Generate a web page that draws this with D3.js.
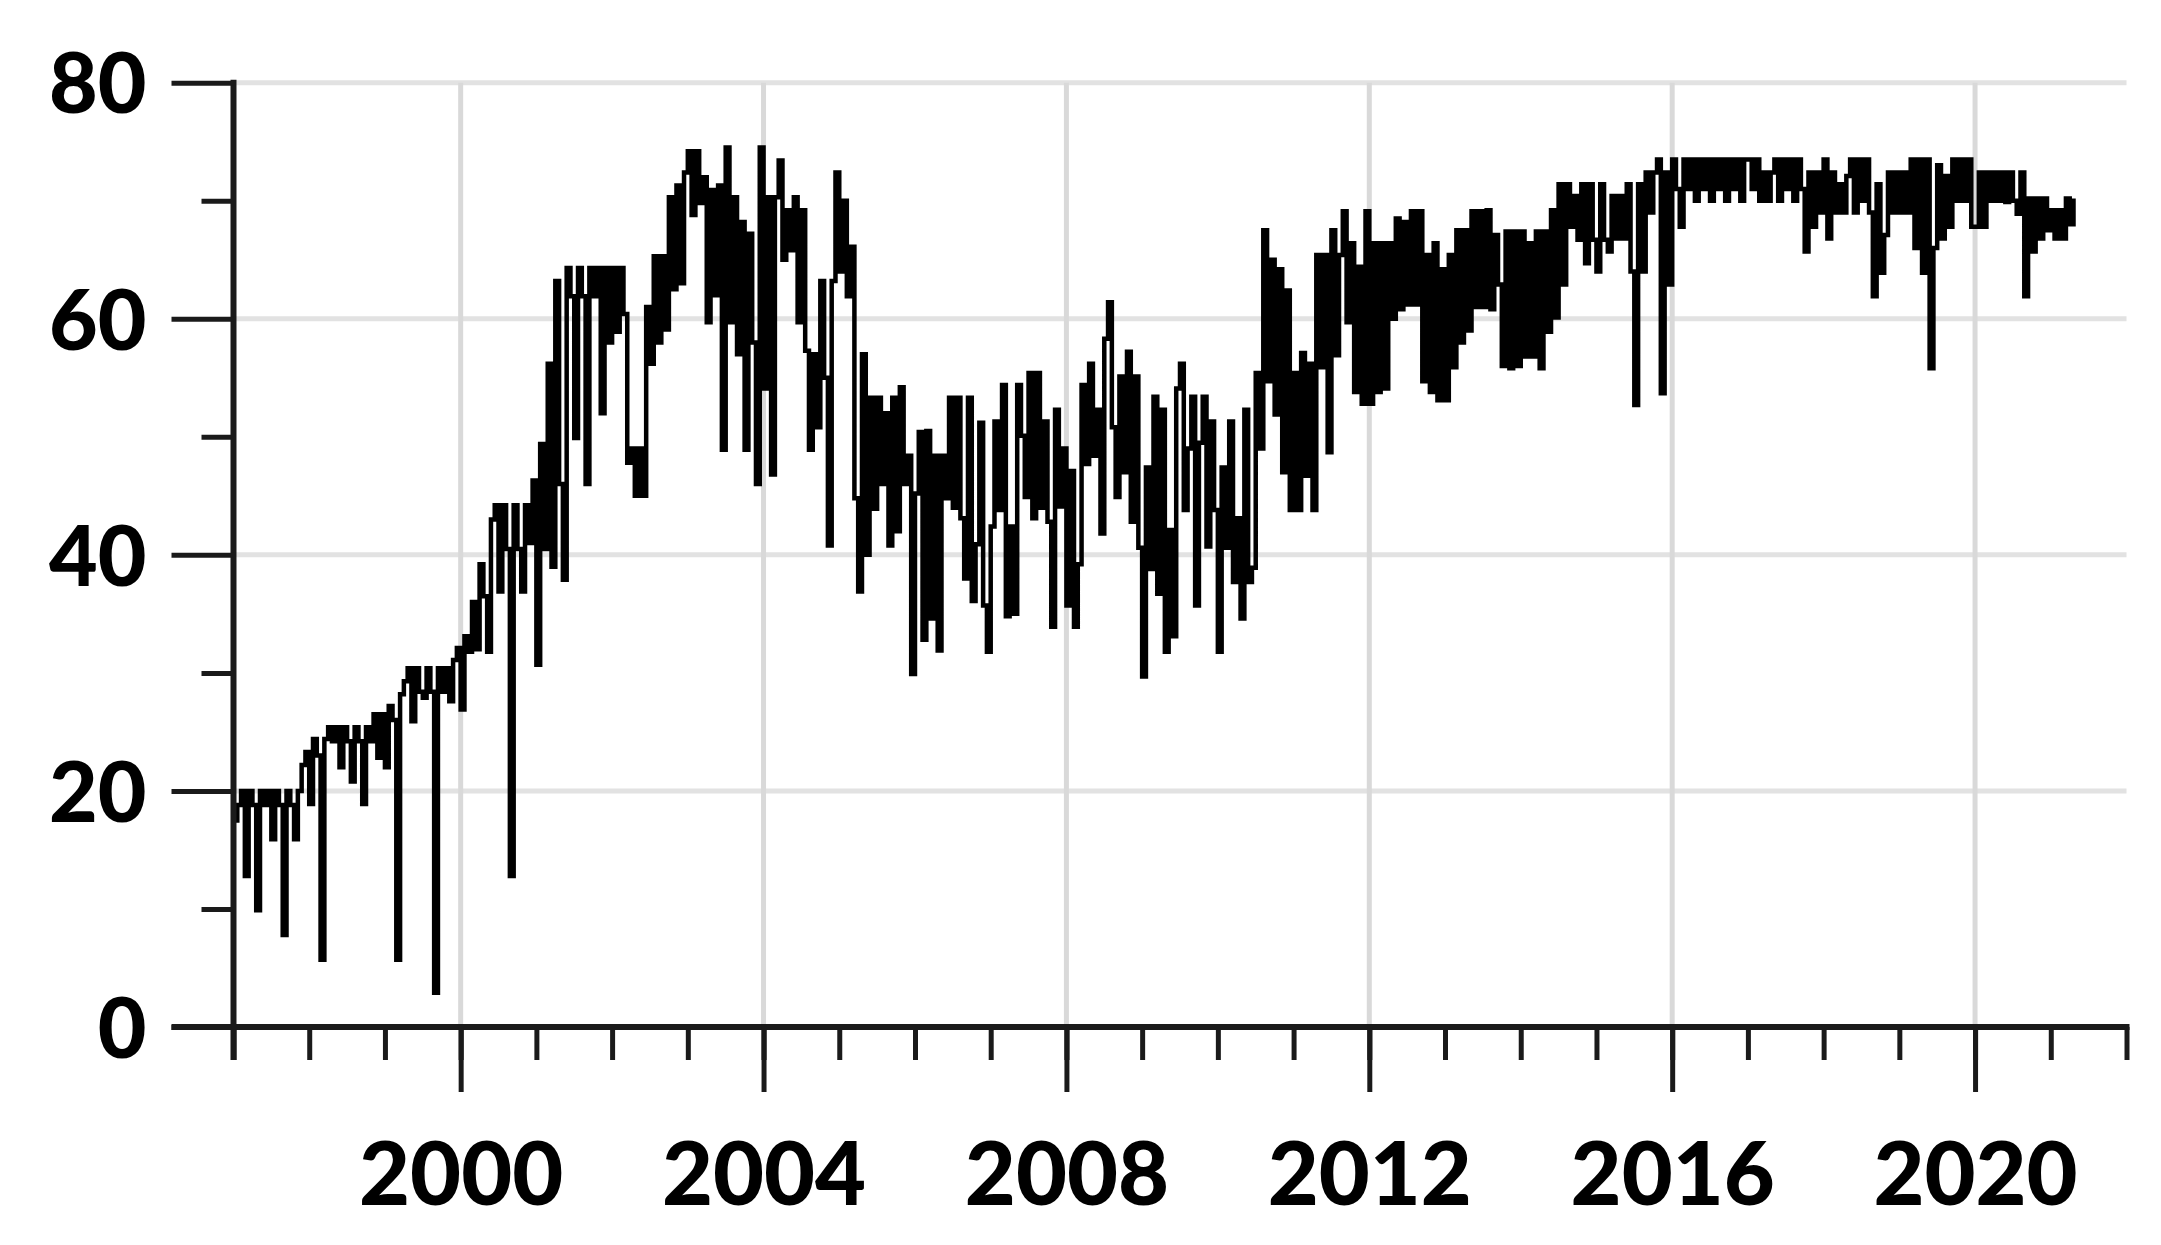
<!DOCTYPE html>
<html>
<head>
<meta charset="utf-8">
<script src="https://cdn.jsdelivr.net/npm/d3@7"></script>
<style>
  html, body { margin: 0; padding: 0; background: #fff; }
  svg { display: block; }
</style>
</head>
<body>
<div id="chart"></div>
<script>
// values, one reading every 1/20 of a year
var y1997 = [17.5, 18.8, 20.0, 12.8, 20.0, 18.8, 9.9, 20.0, 18.8, 20.0, 15.9, 20.0, 18.8, 7.8, 20.0, 18.8, 15.9, 20.0, 22.2, 23.3];
var y1998 = [18.9, 24.4, 23.0, 5.7, 24.4, 25.4, 24.2, 25.4, 22.0, 25.4, 24.2, 20.8, 25.4, 24.2, 18.9, 25.4, 24.2, 26.5, 22.8, 26.5];
var y1999 = [22.0, 27.2, 26.0, 5.7, 28.2, 29.3, 30.4, 25.9, 30.4, 28.4, 27.9, 30.4, 28.4, 2.9, 30.4, 28.4, 30.4, 27.6, 31.1, 32.1];
var y2000 = [26.9, 33.1, 31.8, 36.0, 32.0, 39.2, 36.5, 31.8, 43.0, 44.2, 36.9, 44.2, 40.5, 12.8, 44.2, 40.5, 36.9, 44.2, 41.0, 46.3];
var y2001 = [30.7, 49.4, 40.5, 56.2, 39.0, 63.2, 46.0, 37.9, 64.3, 61.9, 49.9, 64.3, 61.9, 46.0, 64.3, 61.9, 64.3, 52.0, 64.3, 58.0];
var y2002 = [64.3, 58.9, 64.3, 60.4, 47.8, 49.0, 45.0, 49.0, 45.0, 61.0, 56.2, 65.3, 58.0, 65.3, 59.1, 70.3, 62.5, 71.3, 63.0, 72.4];
var y2003 = [74.2, 68.8, 74.2, 69.8, 72.0, 59.7, 70.9, 62.0, 71.3, 48.9, 74.5, 59.7, 70.3, 57.0, 68.2, 48.9, 67.2, 58.0, 46.0, 74.5];
var y2004 = [54.1, 70.3, 46.8, 70.3, 73.4, 65.0, 69.2, 65.8, 70.3, 59.7, 69.2, 57.3, 48.9, 57.0, 50.8, 63.2, 55.0, 40.8, 63.2, 72.4];
var y2005 = [64.0, 70.0, 61.9, 66.1, 44.8, 36.9, 57.0, 40.0, 53.3, 43.9, 53.3, 46.0, 52.0, 40.8, 53.3, 42.0, 54.2, 46.0, 48.4, 29.9];
var y2006 = [45.2, 50.4, 32.8, 50.5, 34.6, 48.4, 31.9, 48.4, 44.8, 53.3, 44.0, 53.3, 43.1, 38.0, 53.3, 36.1, 40.9, 51.2, 35.7, 31.8];
var y2007 = [42.4, 51.3, 43.8, 54.4, 34.8, 42.4, 35.0, 54.4, 50.1, 44.9, 55.4, 43.1, 55.4, 44.0, 51.3, 42.8, 33.9, 52.3, 44.1, 49.0];
var y2008 = [35.7, 47.1, 33.9, 39.2, 54.4, 47.7, 56.2, 48.4, 52.3, 41.8, 58.3, 61.4, 50.8, 44.9, 55.1, 47.0, 57.2, 42.8, 55.1, 40.6];
var y2009 = [29.7, 47.4, 38.8, 53.4, 36.7, 52.3, 31.8, 42.1, 33.1, 54.1, 56.2, 43.8, 49.0, 53.4, 35.7, 49.5, 53.4, 40.7, 51.3, 43.8];
var y2010 = [31.8, 47.4, 40.6, 51.3, 37.7, 43.1, 34.6, 52.3, 37.7, 38.9, 55.4, 49.0, 67.5, 54.7, 65.0, 51.9, 64.2, 47.0, 62.4, 43.8];
var y2011 = [55.4, 43.8, 57.1, 46.7, 56.2, 43.8, 65.4, 55.9, 65.4, 48.7, 67.5, 56.9, 65.4, 69.1, 59.7, 66.4, 53.8, 64.4, 52.8, 69.1];
var y2012 = [52.8, 66.4, 53.8, 66.4, 54.1, 66.4, 60.0, 68.5, 60.8, 68.2, 61.2, 69.1, 61.2, 69.1, 54.7, 65.4, 53.8, 66.4, 53.1, 64.2];
var y2013 = [53.1, 65.4, 55.9, 67.5, 58.0, 67.5, 59.0, 69.1, 61.0, 69.1, 61.0, 69.2, 60.8, 67.1, 62.9, 56.0, 67.4, 55.8, 67.4, 56.0];
var y2014 = [67.4, 56.8, 66.4, 56.8, 67.4, 55.8, 67.4, 58.9, 69.2, 60.1, 71.4, 62.9, 71.4, 67.8, 70.4, 66.7, 71.4, 64.7, 71.4, 66.7];
var y2015 = [64.0, 71.4, 66.7, 65.7, 70.4, 66.8, 70.4, 66.8, 71.4, 64.0, 52.7, 71.4, 64.0, 72.4, 69.0, 72.4, 73.5, 53.7, 72.4, 62.9];
var y2016 = [73.5, 71.0, 67.8, 73.5, 71.0, 73.5, 70.0, 73.5, 71.0, 73.5, 70.0, 73.5, 71.0, 73.5, 70.0, 73.5, 71.0, 73.5, 70.0, 73.5];
var y2017 = [73.5, 71.0, 73.5, 70.0, 72.4, 70.0, 72.4, 73.5, 70.0, 73.5, 71.0, 73.5, 70.0, 73.5, 71.0, 65.7, 72.4, 67.8, 72.4, 69.0];
var y2018 = [73.5, 66.8, 72.4, 69.0, 71.4, 69.0, 72.1, 73.5, 69.0, 73.5, 70.0, 73.5, 69.0, 61.9, 71.4, 63.9, 67.1, 72.4, 69.0, 72.4];
var y2019 = [69.0, 72.4, 69.0, 73.5, 66.0, 73.5, 63.9, 73.5, 55.8, 66.0, 73.0, 66.8, 72.1, 67.8, 73.5, 70.0, 73.5, 70.0, 73.5, 67.8];
var y2020 = [67.8, 72.4, 67.8, 72.4, 70.0, 72.4, 70.0, 72.4, 69.9, 72.4, 70.0, 68.9, 72.4, 61.9, 70.2, 65.7, 70.2, 66.8, 70.2, 67.5];
var y2021 = [69.2, 66.8, 69.2, 66.8, 70.2, 68.0, 70.2];

var yearBlocks = [
    [1997, y1997], [1998, y1998], [1999, y1999], [2000, y2000], [2001, y2001],
    [2002, y2002], [2003, y2003], [2004, y2004], [2005, y2005], [2006, y2006],
    [2007, y2007], [2008, y2008], [2009, y2009], [2010, y2010], [2011, y2011],
    [2012, y2012], [2013, y2013], [2014, y2014], [2015, y2015], [2016, y2016],
    [2017, y2017], [2018, y2018], [2019, y2019], [2020, y2020], [2021, y2021]
];

var yearLabels = [2000, 2004, 2008, 2012, 2016, 2020];
var yearTicks = [1997, 1998, 1999, 2000, 2001, 2002, 2003, 2004, 2005, 2006, 2007, 2008, 2009,
    2010, 2011, 2012, 2013, 2014, 2015, 2016, 2017, 2018, 2019, 2020, 2021, 2022];
var valueLabels = [0, 20, 40, 60, 80];
var valueMinor = [10, 30, 50, 70];

var series = [];
yearBlocks.forEach(function (b) {
    b[1].forEach(function (v, i) {
        series.push({ t: b[0] + i / 20, v: v });
    });
});

var svgWidth = 2161, svgHeight = 1245;
var x = d3.scaleLinear().domain([1997, 2022]).range([233.5, 2126.5]);
var y = d3.scaleLinear().domain([0, 80]).range([1027, 82.7]);

var svg = d3.select("#chart").append("svg")
    .attr("width", svgWidth)
    .attr("height", svgHeight)
    .style("font-family", "Lato, 'Open Sans', sans-serif")
    .style("font-weight", 900);

// grid
svg.append("g").attr("class", "grid grid--y")
    .selectAll("line").data(valueLabels.slice(1)).join("line")
    .attr("x1", x(1997)).attr("x2", x(2022))
    .attr("y1", function (d) { return y(d); })
    .attr("y2", function (d) { return y(d); })
    .attr("stroke", "#e2e2e2").attr("stroke-width", 5);

svg.append("g").attr("class", "grid grid--x")
    .selectAll("line").data(yearLabels).join("line")
    .attr("x1", function (d) { return x(d); })
    .attr("x2", function (d) { return x(d); })
    .attr("y1", y(80)).attr("y2", y(0))
    .attr("stroke", "#d9d9d9").attr("stroke-width", 5);

// series
var line = d3.line()
    .curve(d3.curveStepAfter)
    .x(function (d) { return x(d.t); })
    .y(function (d) { return y(d.v); });

svg.append("path")
    .datum(series)
    .attr("class", "line")
    .attr("fill", "none")
    .attr("stroke", "#000")
    .attr("stroke-width", 4.5)
    .attr("d", line);

// x axis: minor then major ticks
var xMinor = svg.append("g")
    .attr("class", "axis axis--x-minor")
    .attr("transform", "translate(0," + y(0) + ")")
    .call(d3.axisBottom(x).tickValues(yearTicks).tickSize(33).tickSizeOuter(0).tickFormat(""));
xMinor.select(".domain").remove();

var xAxis = svg.append("g")
    .attr("class", "axis axis--x")
    .attr("transform", "translate(0," + y(0) + ")")
    .call(d3.axisBottom(x).tickValues(yearLabels).tickSize(65).tickSizeOuter(0).tickFormat(d3.format("d")));

// y axis
var yMinor = svg.append("g")
    .attr("class", "axis axis--y-minor")
    .attr("transform", "translate(" + x(1997) + ",0)")
    .call(d3.axisLeft(y).tickValues(valueMinor).tickSize(32).tickSizeOuter(0).tickFormat(""));
yMinor.select(".domain").remove();

var yAxis = svg.append("g")
    .attr("class", "axis axis--y")
    .attr("transform", "translate(" + x(1997) + ",0)")
    .call(d3.axisLeft(y).tickValues(valueLabels).tickSize(62).tickSizeOuter(0).tickPadding(25).tickFormat(d3.format("d")));

svg.selectAll(".axis").attr("color", "#1a1a1a")
    .attr("font-family", null).attr("font-size", null);
svg.selectAll(".axis .tick line").attr("stroke-width", 5);

xAxis.select(".domain")
    .attr("d", "M" + (x(1997) - 62) + ",0H" + (x(2022) + 3))
    .attr("stroke-width", 6);
yAxis.select(".domain")
    .attr("d", "M0," + (y(0) + 33) + "V" + (y(80) - 3))
    .attr("stroke-width", 6);

xAxis.selectAll(".tick text")
    .attr("y", 178).attr("dy", null)
    .attr("fill", "#000")
    .style("font-size", "88px");

yAxis.selectAll(".tick text")
    .attr("dy", "0.36em")
    .attr("fill", "#000")
    .style("font-size", "84px");
</script>
</body>
</html>
